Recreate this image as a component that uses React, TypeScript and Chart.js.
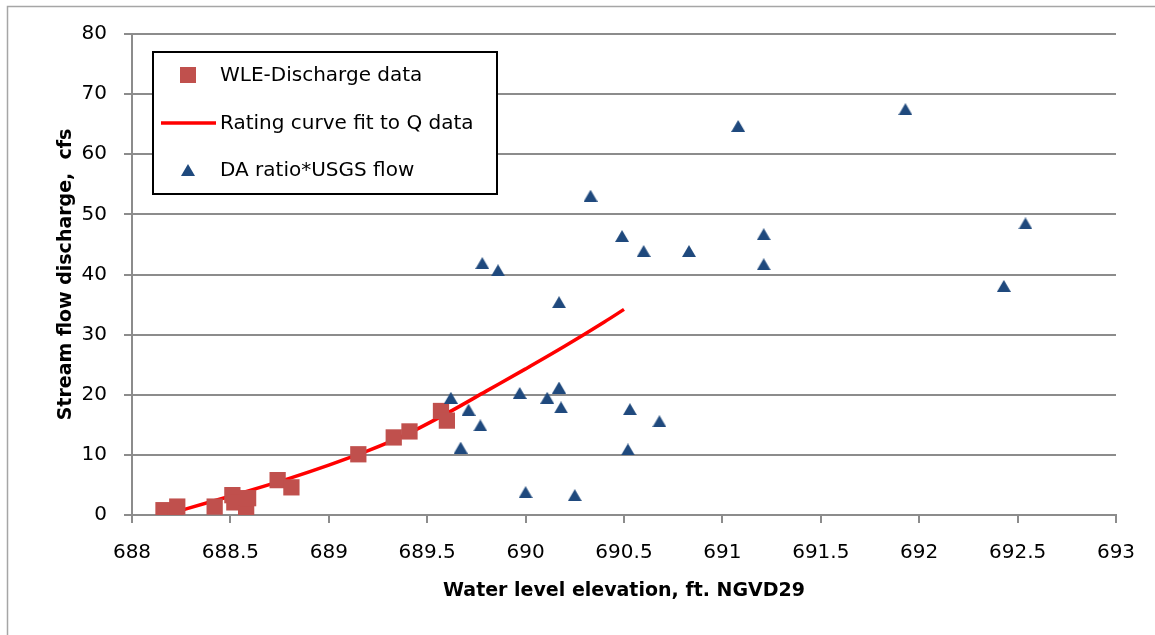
import React, { useEffect, useRef } from "react";
import { Chart, registerables } from "chart.js";

Chart.register(...registerables);

// WLE-Discharge data (squares)
const wleX = [688.16, 688.22, 688.23, 688.42, 688.51, 688.52, 688.58, 688.59, 688.74, 688.81, 689.15, 689.33, 689.41, 689.57, 689.60];
const wleY = [0.8, 0.1, 1.4, 1.4, 3.3, 2.1, 0.2, 2.8, 5.8, 4.6, 10.1, 12.9, 13.9, 17.3, 15.7];

// Rating curve fit to Q data (line)
const curveX = [688.22, 688.4, 688.6, 688.8, 689.0, 689.2, 689.4, 689.6, 689.8, 690.0, 690.2, 690.4, 690.5];
const curveY = [0.5, 2.2, 4.1, 6.1, 8.3, 10.7, 13.5, 16.9, 20.6, 24.3, 28.1, 32.1, 34.2];

// DA ratio*USGS flow (triangles)
const daX = [691.93, 691.08, 690.33, 692.54, 690.49, 691.21, 690.60, 690.83, 689.78, 689.86, 691.21, 692.43, 690.17, 689.62, 689.97, 690.17, 690.11, 690.18, 689.71, 690.53, 689.77, 690.68, 689.67, 690.52, 690.00, 690.25];
const daY = [67.5, 64.7, 53.1, 48.5, 46.4, 46.7, 43.9, 43.9, 41.9, 40.7, 41.7, 38.1, 35.4, 19.5, 20.3, 21.2, 19.5, 17.9, 17.5, 17.6, 14.9, 15.6, 11.2, 10.9, 3.8, 3.3];

const seriesLabels = ["WLE-Discharge data", "Rating curve fit to Q data", "DA ratio*USGS flow"];
const xTitle = "Water level elevation, ft. NGVD29";
const yTitle = "Stream flow discharge,  cfs";

const FONT = "'DejaVu Sans', sans-serif";
const SQUARE_COLOR = "#C0504D";
const TRI_COLOR = "#1F497D";
const LINE_COLOR = "#FF0000";
const GRID_COLOR = "#8c8c8c";

function makeTriangle(w: number, h: number, color: string): HTMLCanvasElement {
  const c = document.createElement("canvas");
  c.width = w;
  c.height = h;
  const g = c.getContext("2d")!;
  g.fillStyle = color;
  g.beginPath();
  g.moveTo(w / 2, 0);
  g.lineTo(w, h);
  g.lineTo(0, h);
  g.closePath();
  g.fill();
  return c;
}

export default function App() {
  const ref = useRef<HTMLCanvasElement>(null);

  useEffect(() => {
    if (!ref.current) return;
    const tri = makeTriangle(14, 12, TRI_COLOR);

    const framePlugin = {
      id: "frame",
      beforeDraw(chart: any) {
        const ctx = chart.ctx;
        ctx.save();
        ctx.fillStyle = "#ffffff";
        ctx.fillRect(0, 0, chart.width, chart.height);
        ctx.strokeStyle = "#a6a6a6";
        ctx.lineWidth = 1.5;
        ctx.beginPath();
        ctx.moveTo(7.5, chart.height);
        ctx.lineTo(7.5, 6.5);
        ctx.lineTo(chart.width, 6.5);
        ctx.stroke();
        ctx.restore();
      },
    };

    const legendPlugin = {
      id: "boxLegend",
      afterDraw(chart: any) {
        const ctx = chart.ctx;
        const ca = chart.chartArea;
        const bx = ca.left + 21;
        const by = ca.top + 18;
        const bw = 344;
        const bh = 142;
        ctx.save();
        ctx.fillStyle = "#ffffff";
        ctx.fillRect(bx, by, bw, bh);
        ctx.strokeStyle = "#000000";
        ctx.lineWidth = 2;
        ctx.strokeRect(bx, by, bw, bh);
        const rows = [by + 23, by + 71, by + 118];
        const mx = bx + 35;
        ctx.font = `20px ${FONT}`;
        ctx.textBaseline = "middle";
        ctx.textAlign = "left";
        chart.data.datasets.forEach((ds: any, i: number) => {
          const cy = rows[i];
          if (i === 0) {
            ctx.fillStyle = SQUARE_COLOR;
            ctx.fillRect(mx - 8, cy - 8, 16, 16);
          } else if (i === 1) {
            ctx.strokeStyle = LINE_COLOR;
            ctx.lineWidth = 3.5;
            ctx.beginPath();
            ctx.moveTo(bx + 8, cy);
            ctx.lineTo(bx + 63, cy);
            ctx.stroke();
          } else {
            ctx.drawImage(tri, mx - 7, cy - 6);
          }
          ctx.fillStyle = "#000000";
          ctx.fillText(ds.label, bx + 67, cy + 1);
        });
        ctx.restore();
      },
    };

    const chart = new Chart(ref.current, {
      type: "scatter",
      data: {
        datasets: [
          {
            label: seriesLabels[0],
            data: wleX.map((x, i) => ({ x, y: wleY[i] })),
            pointStyle: "rect",
            pointRadius: 11.5,
            backgroundColor: SQUARE_COLOR,
            borderColor: SQUARE_COLOR,
            borderWidth: 0,
            order: 1,
          },
          {
            label: seriesLabels[1],
            type: "line",
            data: curveX.map((x, i) => ({ x, y: curveY[i] })),
            showLine: true,
            borderColor: LINE_COLOR,
            borderWidth: 3.5,
            pointRadius: 0,
            fill: false,
            cubicInterpolationMode: "monotone",
            order: 2,
          },
          {
            label: seriesLabels[2],
            data: daX.map((x, i) => ({ x, y: daY[i] })),
            pointStyle: tri,
            pointRadius: 7,
            backgroundColor: TRI_COLOR,
            borderColor: TRI_COLOR,
            order: 0,
          },
        ],
      } as any,
      options: {
        responsive: false,
        animation: false,
        layout: { padding: { left: 0, top: 34, right: 39, bottom: 0 } },
        plugins: {
          legend: { display: false },
          tooltip: { enabled: false },
        },
        scales: {
          x: {
            type: "linear",
            min: 688,
            max: 693,
            ticks: {
              stepSize: 0.5,
              autoSkip: false,
              maxRotation: 0,
              color: "#000",
              padding: 18,
              font: { family: FONT, size: 20 },
              callback: (v: any) => String(v),
            },
            grid: {
              drawOnChartArea: false,
              drawTicks: true,
              tickLength: 8,
              color: GRID_COLOR,
              lineWidth: 2,
            },
            border: { display: true, color: GRID_COLOR, width: 2 },
            title: {
              display: true,
              text: xTitle,
              color: "#000",
              font: { family: FONT, size: 19, weight: "bold" },
              padding: { top: 0, bottom: 33 },
            },
            afterFit: (s: any) => {
              s.height = 120;
            },
          },
          y: {
            type: "linear",
            min: 0,
            max: 80,
            ticks: {
              stepSize: 10,
              color: "#000",
              padding: 17,
              font: { family: FONT, size: 20 },
            },
            grid: {
              drawOnChartArea: true,
              drawTicks: true,
              tickLength: 8,
              color: GRID_COLOR,
              lineWidth: 2,
            },
            border: { display: true, color: GRID_COLOR, width: 2 },
            title: {
              display: true,
              text: yTitle,
              color: "#000",
              font: { family: FONT, size: 19, weight: "bold" },
              padding: { top: 55, bottom: 0 },
            },
            afterFit: (s: any) => {
              s.width = 132;
            },
          },
        },
      } as any,
      plugins: [framePlugin, legendPlugin],
    });

    return () => chart.destroy();
  }, []);

  return (
    <div style={{ position: "fixed", left: 0, top: 0, width: 1155, height: 635, background: "#fff" }}>
      <canvas ref={ref} width={1155} height={635} style={{ display: "block" }} />
    </div>
  );
}
